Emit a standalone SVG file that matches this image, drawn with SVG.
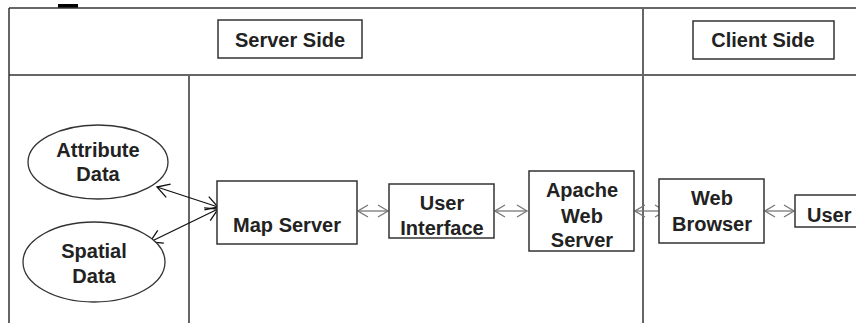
<svg xmlns="http://www.w3.org/2000/svg" width="856" height="323" viewBox="0 0 856 323">
  <defs>
    <style>
      .frame { stroke: #333; stroke-width: 1.5; fill: none; }
      .divider { stroke: #666; stroke-width: 2; fill: none; }
      .box { fill: #fff; stroke: #333; stroke-width: 1.5; }
      .label { font-family: "Liberation Sans", Arial, sans-serif; font-weight: bold; font-size: 20px; fill: #222; text-anchor: middle; }
      .link { stroke: #777; stroke-width: 1.3; fill: none; marker-start: url(#headStartGray); marker-end: url(#headEndGray); }
      .diag { stroke: #111; stroke-width: 1.3; fill: none; marker-start: url(#headStartDark); marker-end: url(#headEndDark); }
    </style>
    <marker id="headEndGray" markerWidth="14" markerHeight="14" refX="11" refY="7" orient="auto" markerUnits="userSpaceOnUse">
      <path d="M1,1 L11,7 L1,13" fill="none" stroke="#777" stroke-width="1.3"/>
    </marker>
    <marker id="headStartGray" markerWidth="14" markerHeight="14" refX="1" refY="7" orient="auto" markerUnits="userSpaceOnUse">
      <path d="M11,1 L1,7 L11,13" fill="none" stroke="#777" stroke-width="1.3"/>
    </marker>
    <marker id="headEndDark" markerWidth="16" markerHeight="16" refX="13" refY="8" orient="auto" markerUnits="userSpaceOnUse">
      <path d="M1,1 L13,8 L1,15" fill="none" stroke="#111" stroke-width="1.3"/>
    </marker>
    <marker id="headStartDark" markerWidth="16" markerHeight="16" refX="1" refY="8" orient="auto" markerUnits="userSpaceOnUse">
      <path d="M13,1 L1,8 L13,15" fill="none" stroke="#111" stroke-width="1.3"/>
    </marker>
  </defs>

  <rect width="856" height="323" fill="#fff"/>

  <!-- table frame -->
  <g id="frame">
    <rect x="58" y="4" width="20" height="4" fill="#000"/>
    <line class="frame" x1="9" y1="8" x2="856" y2="8"/>
    <line class="frame" x1="9" y1="8" x2="9" y2="323"/>
    <line class="frame" x1="9" y1="75" x2="856" y2="75"/>
    <line class="divider" x1="189" y1="75" x2="189" y2="323"/>
    <line class="divider" x1="643" y1="8" x2="643" y2="323"/>
  </g>

  <!-- section headers -->
  <g id="server-side">
    <rect class="box" x="218" y="20" width="144" height="38"/>
    <text class="label" x="290" y="47">Server Side</text>
  </g>
  <g id="client-side">
    <rect class="box" x="693" y="21" width="141" height="38"/>
    <text class="label" x="763" y="47">Client Side</text>
  </g>

  <!-- connectors -->
  <g id="connectors">
    <line class="diag" x1="157" y1="187" x2="218" y2="207"/>
    <line class="diag" x1="218" y1="209" x2="150" y2="242"/>
    <line class="link" x1="358" y1="211" x2="388" y2="211"/>
    <line class="link" x1="495" y1="211" x2="527" y2="211"/>
    <line class="link" x1="635" y1="211" x2="665" y2="211"/>
    <line class="link" x1="765" y1="211" x2="794" y2="211"/>
  </g>

  <!-- data stores -->
  <g id="attribute-data">
    <ellipse cx="98" cy="162" rx="70" ry="37" fill="#fff" stroke="#333" stroke-width="1.3"/>
    <text class="label" x="98" y="157">Attribute</text>
    <text class="label" x="98" y="181">Data</text>
  </g>
  <g id="spatial-data">
    <ellipse cx="94" cy="262" rx="71" ry="40" fill="#fff" stroke="#333" stroke-width="1.3"/>
    <text class="label" x="94" y="258">Spatial</text>
    <text class="label" x="94" y="283">Data</text>
  </g>

  <!-- processing nodes -->
  <g id="map-server">
    <rect class="box" x="217" y="181" width="140" height="63"/>
    <text class="label" x="287" y="232">Map Server</text>
  </g>
  <g id="user-interface">
    <rect class="box" x="389" y="184" width="105" height="54"/>
    <text class="label" x="442" y="210">User</text>
    <text class="label" x="442" y="235">Interface</text>
  </g>
  <g id="apache-web-server">
    <rect class="box" x="529" y="171" width="105" height="80"/>
    <text class="label" x="582" y="197">Apache</text>
    <text class="label" x="582" y="223">Web</text>
    <text class="label" x="582" y="247">Server</text>
  </g>
  <g id="web-browser">
    <rect class="box" x="659" y="179" width="105" height="64"/>
    <text class="label" x="712" y="205">Web</text>
    <text class="label" x="712" y="231">Browser</text>
  </g>
  <g id="user">
    <rect class="box" x="795" y="195" width="70" height="32"/>
    <text class="label" x="807" y="222" style="text-anchor:start">User</text>
  </g>
</svg>
